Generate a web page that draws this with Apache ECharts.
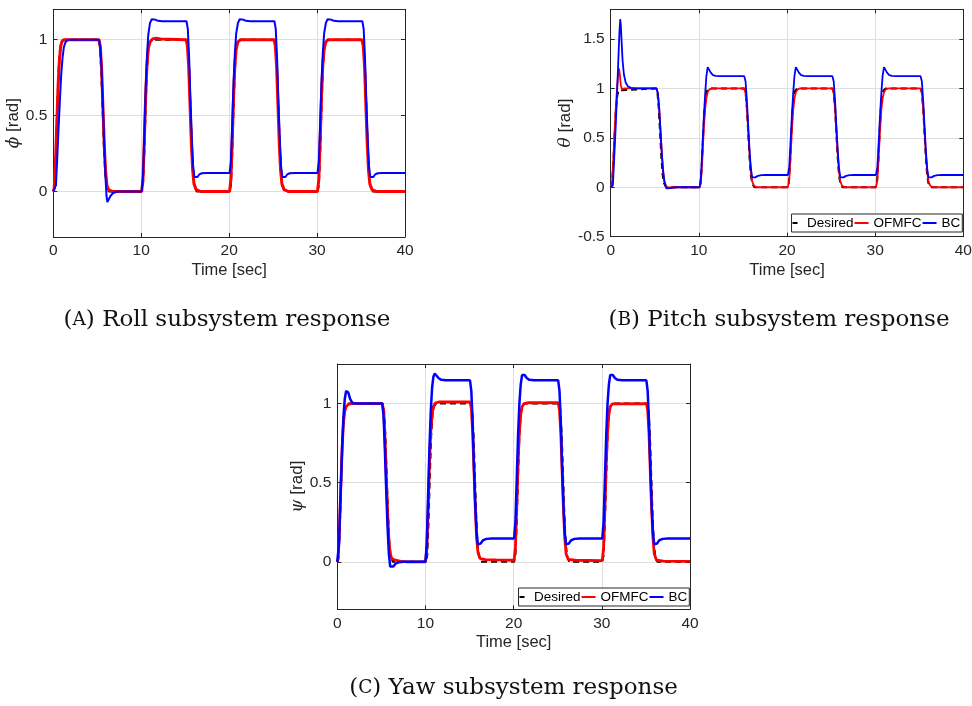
<!DOCTYPE html>
<html>
<head>
<meta charset="utf-8">
<script src="https://cdn.jsdelivr.net/npm/echarts@6/dist/echarts.min.js"></script>
<style>html,body{margin:0;padding:0;background:#fff;}#c{width:972px;height:706px;}</style>
</head>
<body>
<div id="c"></div>
<script>
// ---- Data ----
const xTicks = [0, 10, 20, 30, 40];
const yTicksRoll = [0, 0.5, 1];
const yTicksPitch = [-0.5, 0, 0.5, 1, 1.5];
const yTicksYaw = [0, 0.5, 1];
const seriesNames = ['Desired', 'OFMFC', 'BC'];
const captions = ['Roll subsystem response', 'Pitch subsystem response', 'Yaw subsystem response'];
const captionTags = ['A', 'B', 'C'];
const yNames = ['ϕ', 'θ', 'ψ'];

// Desired reference (same square-wave command for all three subsystems)
const desiredRef = [[0,0],[0.15,0.03],[0.3,0.25],[0.45,0.55],[0.6,0.8],[0.75,0.93],[0.9,0.98],[1.1,1],[5.15,1],[5.3,0.96],[5.45,0.8],[5.6,0.55],[5.75,0.3],[5.9,0.12],[6.05,0.04],[6.3,0],
[10.05,0],[10.2,0.04],[10.35,0.25],[10.5,0.55],[10.65,0.8],[10.8,0.93],[10.95,0.98],[11.2,1],[15.15,1],[15.3,0.96],[15.45,0.8],[15.6,0.55],[15.75,0.3],[15.9,0.12],[16.05,0.04],[16.3,0],
[20.05,0],[20.2,0.04],[20.35,0.25],[20.5,0.55],[20.65,0.8],[20.8,0.93],[20.95,0.98],[21.2,1],[25.15,1],[25.3,0.96],[25.45,0.8],[25.6,0.55],[25.75,0.3],[25.9,0.12],[26.05,0.04],[26.3,0],
[30.05,0],[30.2,0.04],[30.35,0.25],[30.5,0.55],[30.65,0.8],[30.8,0.93],[30.95,0.98],[31.2,1],[35.15,1],[35.3,0.96],[35.45,0.8],[35.6,0.55],[35.75,0.3],[35.9,0.12],[36.05,0.04],[36.3,0],[40,0]];

const rollOFMFC = [[0,0],[0.1,0.02],[0.25,0.2],[0.4,0.45],[0.55,0.7],[0.7,0.87],[0.85,0.96],[1.0,0.99],[1.25,1.0],[5.2,1.0],
[5.35,0.95],[5.5,0.8],[5.65,0.55],[5.8,0.3],[5.95,0.13],[6.1,0.04],[6.3,0.01],[6.7,0],[10.05,0],
[10.2,0.08],[10.35,0.33],[10.5,0.62],[10.65,0.83],[10.8,0.94],[11.0,0.985],[11.3,1.005],[11.7,1.01],[12.2,1.005],[15.1,1.0],
[15.25,0.96],[15.4,0.82],[15.55,0.57],[15.7,0.32],[15.85,0.14],[16.0,0.05],[16.25,0.012],[16.7,0],[20.05,0],
[20.2,0.08],[20.35,0.33],[20.5,0.62],[20.65,0.83],[20.8,0.94],[21.0,0.985],[21.3,1.0],[25.1,1.0],
[25.25,0.96],[25.4,0.82],[25.55,0.57],[25.7,0.32],[25.85,0.14],[26.0,0.05],[26.25,0.012],[26.7,0],[30.05,0],
[30.2,0.08],[30.35,0.33],[30.5,0.62],[30.65,0.83],[30.8,0.94],[31.0,0.985],[31.3,1.0],[35.1,1.0],
[35.25,0.96],[35.4,0.82],[35.55,0.57],[35.7,0.32],[35.85,0.14],[36.0,0.05],[36.25,0.012],[36.7,0],[40,0]];

const rollBC = [[0,0],[0.2,0.005],[0.3,0.04],[0.45,0.22],[0.6,0.42],[0.75,0.6],[0.9,0.77],[1.05,0.88],[1.2,0.95],[1.4,0.985],[1.7,1.0],[5.2,1.0],
[5.35,0.95],[5.5,0.8],[5.65,0.55],[5.8,0.3],[5.95,0.08],[6.05,-0.03],[6.15,-0.07],[6.3,-0.06],[6.5,-0.03],[6.8,-0.01],[7.3,0],[10.05,0],
[10.2,0.1],[10.35,0.38],[10.5,0.67],[10.65,0.89],[10.8,1.03],[11.0,1.11],[11.2,1.135],[11.4,1.142],[11.6,1.132],[11.9,1.124],[12.4,1.122],[15.15,1.122],
[15.3,1.07],[15.45,0.88],[15.6,0.6],[15.75,0.36],[15.9,0.17],[16.05,0.095],[16.2,0.082],[16.4,0.095],[16.6,0.112],[16.9,0.12],[17.4,0.122],[20.05,0.122],
[20.2,0.2],[20.35,0.45],[20.5,0.72],[20.65,0.91],[20.8,1.04],[21.0,1.11],[21.2,1.135],[21.4,1.142],[21.6,1.132],[21.9,1.124],[22.4,1.122],[25.15,1.122],
[25.3,1.07],[25.45,0.88],[25.6,0.6],[25.75,0.36],[25.9,0.17],[26.05,0.095],[26.2,0.082],[26.4,0.095],[26.6,0.112],[26.9,0.12],[27.4,0.122],[30.05,0.122],
[30.2,0.2],[30.35,0.45],[30.5,0.72],[30.65,0.91],[30.8,1.04],[31.0,1.11],[31.2,1.135],[31.4,1.142],[31.6,1.132],[31.9,1.124],[32.4,1.122],[35.15,1.122],
[35.3,1.07],[35.45,0.88],[35.6,0.6],[35.75,0.36],[35.9,0.17],[36.05,0.095],[36.2,0.082],[36.4,0.095],[36.6,0.112],[36.9,0.12],[37.4,0.122],[40,0.122]];

const pitchOFMFC = [[0,0],[0.15,0.04],[0.3,0.28],[0.45,0.58],[0.6,0.84],[0.75,1.04],[0.87,1.17],[0.95,1.2],[1.05,1.13],[1.15,1.03],[1.3,0.99],[1.6,1.0],[5.2,1.0],
[5.35,0.95],[5.5,0.8],[5.65,0.57],[5.8,0.34],[5.95,0.16],[6.1,0.06],[6.3,0.01],[6.6,-0.005],[7.0,0],[10.1,0],
[10.25,0.07],[10.4,0.3],[10.55,0.57],[10.7,0.78],[10.85,0.9],[11.0,0.96],[11.2,0.99],[11.5,1.0],[15.15,1.0],
[15.3,0.95],[15.45,0.8],[15.6,0.57],[15.75,0.34],[15.9,0.16],[16.05,0.06],[16.25,0.015],[16.6,0],[20.1,0],
[20.25,0.07],[20.4,0.3],[20.55,0.57],[20.7,0.78],[20.85,0.9],[21.0,0.96],[21.2,0.99],[21.5,1.0],[25.15,1.0],
[25.3,0.95],[25.45,0.8],[25.6,0.57],[25.75,0.34],[25.9,0.16],[26.05,0.06],[26.25,0.015],[26.6,0],[30.1,0],
[30.25,0.07],[30.4,0.3],[30.55,0.57],[30.7,0.78],[30.85,0.9],[31.0,0.96],[31.2,0.99],[31.5,1.0],[35.15,1.0],
[35.3,0.95],[35.45,0.8],[35.6,0.57],[35.75,0.34],[35.9,0.16],[36.05,0.06],[36.25,0.015],[36.6,0],[40,0]];

const pitchBC = [[0,0],[0.25,0.02],[0.4,0.3],[0.55,0.58],[0.7,0.9],[0.85,1.25],[0.98,1.55],[1.08,1.7],[1.15,1.64],[1.25,1.45],[1.35,1.28],[1.5,1.14],[1.7,1.06],[1.95,1.02],[2.3,1.005],[2.8,1.0],[5.2,1.0],
[5.35,0.95],[5.5,0.8],[5.65,0.57],[5.8,0.34],[5.95,0.16],[6.1,0.05],[6.3,-0.01],[6.5,-0.015],[6.8,-0.008],[7.3,0],[10.1,0],
[10.25,0.12],[10.4,0.4],[10.55,0.68],[10.7,0.92],[10.85,1.12],[11.0,1.215],[11.15,1.2],[11.35,1.16],[11.6,1.135],[11.9,1.127],[12.4,1.124],[15.15,1.124],
[15.3,1.07],[15.45,0.88],[15.6,0.62],[15.75,0.38],[15.9,0.19],[16.05,0.1],[16.2,0.09],[16.4,0.1],[16.7,0.115],[17.1,0.122],[17.6,0.124],[20.1,0.124],
[20.25,0.2],[20.4,0.45],[20.55,0.72],[20.7,0.95],[20.85,1.13],[21.0,1.215],[21.15,1.2],[21.35,1.16],[21.6,1.135],[21.9,1.127],[22.4,1.124],[25.15,1.124],
[25.3,1.07],[25.45,0.88],[25.6,0.62],[25.75,0.38],[25.9,0.19],[26.05,0.1],[26.2,0.09],[26.4,0.1],[26.7,0.115],[27.1,0.122],[27.6,0.124],[30.1,0.124],
[30.25,0.2],[30.4,0.45],[30.55,0.72],[30.7,0.95],[30.85,1.13],[31.0,1.215],[31.15,1.2],[31.35,1.16],[31.6,1.135],[31.9,1.127],[32.4,1.124],[35.15,1.124],
[35.3,1.07],[35.45,0.88],[35.6,0.62],[35.75,0.38],[35.9,0.19],[36.05,0.1],[36.2,0.09],[36.4,0.1],[36.7,0.115],[37.1,0.122],[37.6,0.124],[40,0.124]];

const yawOFMFC = [[0,0],[0.1,0.02],[0.25,0.22],[0.4,0.48],[0.55,0.72],[0.7,0.88],[0.85,0.95],[1.0,0.98],[1.25,0.995],[1.6,1.0],[5.1,1.0],
[5.25,0.96],[5.4,0.8],[5.55,0.56],[5.7,0.32],[5.85,0.14],[6.0,0.05],[6.2,0.02],[6.6,0.01],[7.2,0.003],[8.0,0],[10.0,0],
[10.15,0.08],[10.3,0.33],[10.45,0.62],[10.6,0.82],[10.75,0.93],[10.9,0.98],[11.1,1.003],[11.5,1.01],[15.05,1.01],
[15.2,0.97],[15.35,0.82],[15.5,0.58],[15.65,0.34],[15.8,0.15],[15.95,0.06],[16.2,0.02],[16.8,0.014],[18.0,0.012],[20.05,0.01],
[20.2,0.09],[20.35,0.34],[20.5,0.62],[20.65,0.82],[20.8,0.93],[20.95,0.98],[21.2,1.0],[21.6,1.005],[25.05,1.005],
[25.2,0.96],[25.35,0.81],[25.5,0.57],[25.65,0.33],[25.8,0.15],[25.95,0.05],[26.2,0.015],[27.0,0.01],[30.05,0.008],
[30.2,0.09],[30.35,0.34],[30.5,0.62],[30.65,0.82],[30.8,0.93],[30.95,0.98],[31.2,0.998],[35.05,1.0],
[35.2,0.96],[35.35,0.81],[35.5,0.57],[35.65,0.33],[35.8,0.15],[35.95,0.05],[36.2,0.01],[37.0,0.004],[40,0.003]];

const yawBC = [[0,0],[0.1,0],[0.2,0.12],[0.3,0.3],[0.42,0.5],[0.55,0.72],[0.7,0.92],[0.85,1.03],[1.0,1.08],[1.1,1.088],[1.25,1.07],[1.45,1.03],[1.7,1.005],[2.0,1.0],[5.1,1.0],
[5.25,0.92],[5.4,0.7],[5.55,0.45],[5.7,0.22],[5.85,0.05],[6.0,-0.03],[6.15,-0.042],[6.35,-0.03],[6.6,-0.012],[7.0,-0.002],[7.5,0],[10.0,0],
[10.15,0.12],[10.3,0.42],[10.45,0.72],[10.6,0.95],[10.75,1.1],[10.9,1.17],[11.05,1.19],[11.25,1.18],[11.5,1.16],[11.8,1.15],[12.3,1.147],[15.05,1.147],
[15.2,1.08],[15.35,0.88],[15.5,0.6],[15.65,0.36],[15.8,0.18],[15.95,0.11],[16.05,0.102],[16.25,0.115],[16.5,0.135],[16.9,0.145],[17.5,0.147],[20.05,0.147],
[20.2,0.25],[20.35,0.52],[20.5,0.8],[20.65,1.0],[20.8,1.12],[20.95,1.18],[21.05,1.19],[21.25,1.18],[21.5,1.16],[21.8,1.15],[22.3,1.147],[25.05,1.147],
[25.2,1.08],[25.35,0.88],[25.5,0.6],[25.65,0.36],[25.8,0.18],[25.95,0.11],[26.05,0.102],[26.25,0.115],[26.5,0.135],[26.9,0.145],[27.5,0.147],[30.05,0.147],
[30.2,0.25],[30.35,0.52],[30.5,0.8],[30.65,1.0],[30.8,1.12],[30.95,1.18],[31.05,1.19],[31.25,1.18],[31.5,1.16],[31.8,1.15],[32.3,1.147],[35.05,1.147],
[35.2,1.08],[35.35,0.88],[35.5,0.6],[35.65,0.36],[35.8,0.18],[35.95,0.11],[36.05,0.102],[36.25,0.115],[36.5,0.135],[36.9,0.145],[37.5,0.147],[40,0.147]];

// ---- Chart ----
const AX = '#262626';
const SANS = 'Liberation Sans';
const grids = [
  {left: 53.3, top: 9.3, width: 351.7, height: 227.7},
  {left: 610.7, top: 9.3, width: 352.6, height: 227.4},
  {left: 337.3, top: 364, width: 352.7, height: 245.3}
];
const yRanges = [[-0.3, 1.2], [-0.5, 1.8], [-0.3, 1.25]];
const yTickSets = [yTicksRoll, yTicksPitch, yTicksYaw];
const yNameGaps = [23, 29, 23];
const panelData = [
  [desiredRef, rollOFMFC, rollBC],
  [desiredRef, pitchOFMFC, pitchBC],
  [desiredRef, yawOFMFC, yawBC]
];
const widths = [[2, 3, 2], [2, 1.8, 1.8], [2, 2.8, 2.5]];
const colors = ['#000000', '#ff0000', '#0000ff'];

const xAxes = [], yAxes = [], series = [];
grids.forEach((g, i) => {
  xAxes.push({
    gridIndex: i, type: 'value', min: 0, max: 40, position: 'bottom',
    name: 'Time [sec]', nameLocation: 'middle', nameGap: 25,
    nameTextStyle: {fontFamily: SANS, fontSize: 16.5, color: AX},
    axisLine: {show: true, onZero: false, lineStyle: {color: AX, width: 1}},
    axisTick: {show: true, inside: true, length: 4, customValues: xTicks, lineStyle: {color: AX}},
    axisLabel: {show: true, margin: 6, customValues: xTicks, fontFamily: SANS, fontSize: 15.5, color: AX},
    splitLine: {show: true, lineStyle: {color: '#dedede', width: 1}}
  });
  xAxes.push({
    gridIndex: i, type: 'value', min: 0, max: 40, position: 'top',
    axisLine: {show: true, onZero: false, lineStyle: {color: AX, width: 1}},
    axisTick: {show: true, inside: true, length: 4, customValues: xTicks, lineStyle: {color: AX}},
    axisLabel: {show: false}, splitLine: {show: false}
  });
  yAxes.push({
    gridIndex: i, type: 'value', min: yRanges[i][0], max: yRanges[i][1], position: 'left',
    name: '{g|' + yNames[i] + '} [rad]', nameLocation: 'middle', nameGap: yNameGaps[i], nameRotate: 90,
    nameTextStyle: {fontFamily: SANS, fontSize: 17, color: AX,
      rich: {g: {fontFamily: 'DejaVu Serif', fontStyle: 'italic', fontSize: 17, color: AX}}},
    axisLine: {show: true, onZero: false, lineStyle: {color: AX, width: 1}},
    axisTick: {show: true, inside: true, length: 4, customValues: yTickSets[i], lineStyle: {color: AX}},
    axisLabel: {show: true, margin: 6, customValues: yTickSets[i], fontFamily: SANS, fontSize: 15.5, color: AX},
    splitLine: {show: true, lineStyle: {color: '#dedede', width: 1}}
  });
  yAxes.push({
    gridIndex: i, type: 'value', min: yRanges[i][0], max: yRanges[i][1], position: 'right',
    axisLine: {show: true, onZero: false, lineStyle: {color: AX, width: 1}},
    axisTick: {show: true, inside: true, length: 4, customValues: yTickSets[i], lineStyle: {color: AX}},
    axisLabel: {show: false}, splitLine: {show: false}
  });
  panelData[i].forEach((d, k) => {
    series.push({
      name: seriesNames[k], type: 'line', xAxisIndex: 2 * i, yAxisIndex: 2 * i,
      data: d, symbol: 'none', showSymbol: false, smooth: false, animation: false,
      z: 2 + k,
      color: colors[k],
      lineStyle: {color: colors[k], width: widths[i][k], type: k === 0 ? [6, 4] : 'solid'}
    });
  });
});

const legendData = [
  {name: 'Desired', icon: 'path://M0,0h5v2h-5Z', itemStyle: {color: '#000'}},
  {name: 'OFMFC'}, {name: 'BC'}
];
const legendBase = {
  data: legendData, orient: 'horizontal', itemWidth: 14, itemHeight: 2, itemGap: 0,
  padding: [2, 2, 2, 1], borderColor: AX, borderWidth: 1, backgroundColor: '#fff',
  textStyle: {fontFamily: SANS, fontSize: 13.5, color: '#000'}, selectedMode: false
};

const capPos = [[227, 320], [779, 320], [513.5, 688]];

const chart = echarts.init(document.getElementById('c'), null, {renderer: 'canvas'});
chart.setOption({
  animation: false,
  backgroundColor: '#fff',
  grid: grids.map(g => Object.assign({containLabel: false, outerBoundsMode: 'none'}, g)),
  xAxis: xAxes,
  yAxis: yAxes,
  series: series,
  legend: [
    Object.assign({right: 9.7, top: 214}, legendBase),
    Object.assign({right: 282.7, top: 588}, legendBase)
  ],
  graphic: capPos.map((p, i) => ({
    type: 'text', x: p[0], y: p[1],
    style: {
      text: '({s|' + captionTags[i] + '}) ' + captions[i],
      align: 'center', verticalAlign: 'middle',
      fontFamily: 'DejaVu Serif', fontSize: 23, fill: '#111',
      rich: {s: {fontFamily: 'DejaVu Serif', fontSize: 18.5, fill: '#111'}}
    }
  }))
});
</script>
</body>
</html>
